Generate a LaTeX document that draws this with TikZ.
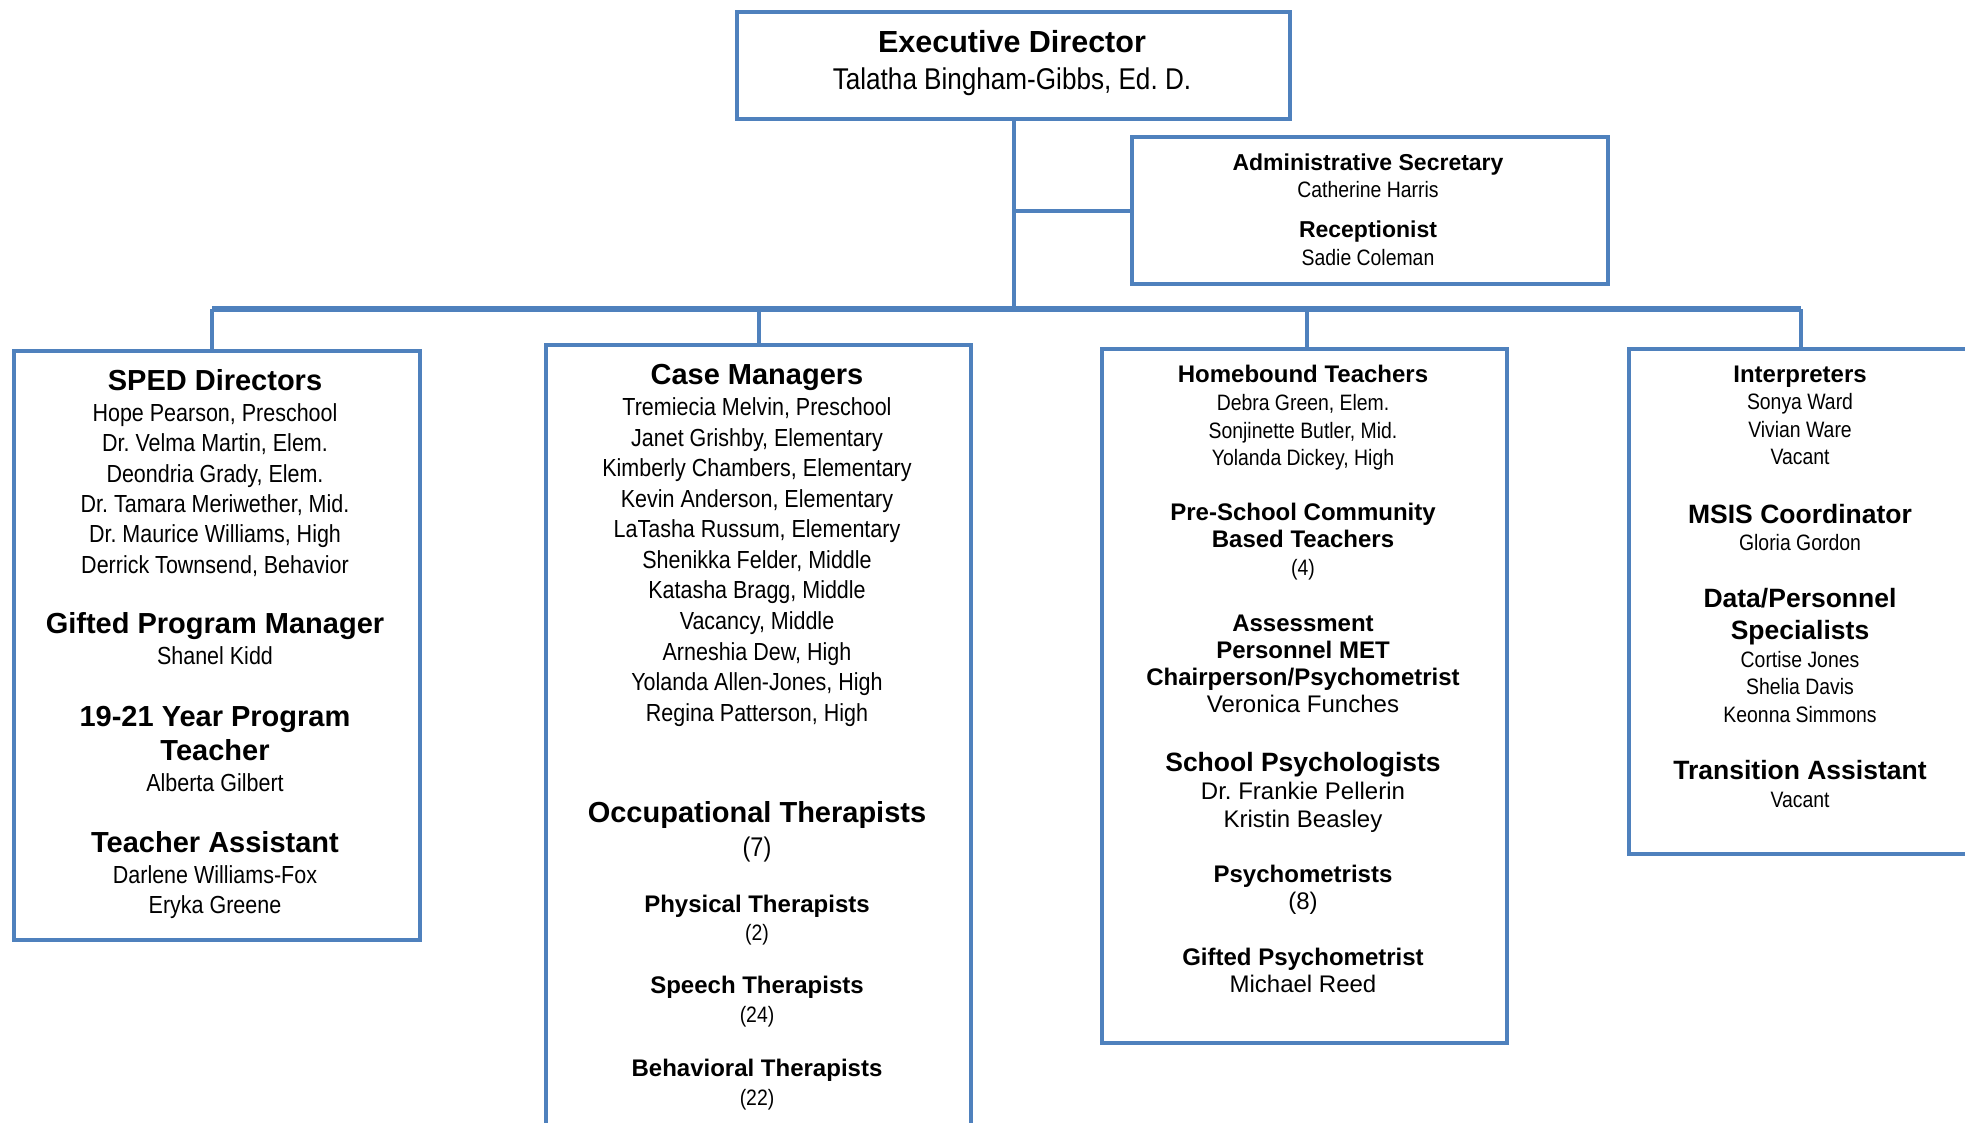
\documentclass[tikz,border=0pt]{standalone}
\usepackage{fontspec}
\setmainfont{Liberation Sans}
\newfontfamily\narrowfont{Liberation Sans}[FakeStretch=0.87]
\usetikzlibrary{calc}
\definecolor{orgblue}{RGB}{79,129,189}
\frenchspacing
\newcommand\hdX{\fontsize{30.5}{31}\selectfont\bfseries}
\newcommand\hdA{\fontsize{29}{29}\selectfont\bfseries}
\newcommand\hdC{\fontsize{26.5}{27}\selectfont\bfseries}
\newcommand\hdB{\fontsize{24}{24}\selectfont\bfseries}
\newcommand\hdS{\fontsize{23}{23}\selectfont\bfseries}
\newcommand\nmX{\narrowfont\fontsize{30}{30}\selectfont}
\newcommand\nmD{\narrowfont\fontsize{27}{27}\selectfont}
\newcommand\nmA{\narrowfont\fontsize{24.7}{25}\selectfont}
\newcommand\nmB{\narrowfont\fontsize{22.3}{23}\selectfont}
\newcommand\nmC{\fontsize{24}{24}\selectfont}
\tikzset{
	unitbox/.style={draw=orgblue, line width=4.2pt, inner sep=0pt, anchor=north west},
	link/.style={draw=orgblue, line width=4pt},
	busline/.style={draw=orgblue, line width=5.5pt},
	txt/.style={inner sep=0pt, anchor=base}
}

\begin{document}
\begin{tikzpicture}[x=1pt, y=-1pt]
		%%%%% START %%%%%
		\useasboundingbox (0,0) rectangle (1965,1123);
		
		\node[unitbox, minimum width=553pt, minimum height=107pt] (exec) at (735,10) {};
		\node[unitbox, minimum width=476pt, minimum height=147pt] (admin) at (1130,135) {};
		\node[unitbox, minimum width=406pt, minimum height=589pt] (sped) at (12,349) {};
		\node[unitbox, minimum width=425pt, minimum height=792pt] (case) at (544,343) {};
		\node[unitbox, minimum width=405pt, minimum height=694pt] (home) at (1100,347) {};
		\node[unitbox, minimum width=343pt, minimum height=505pt] (interp) at (1627,347) {};
		
		\coordinate (busY) at (0,309);
		\coordinate (spedTop) at ($(sped.north)+(-5,0)$);
		\coordinate (homeTop) at ($(home.north)+(2,0)$);
		\draw[link] (exec.south) -- (exec.south |- busY);
		\draw[link] (admin.west) -- (admin.west -| exec.south);
		\draw[busline] (spedTop |- busY) -- (interp.north |- busY);
		\draw[link] (spedTop) -- (spedTop |- busY);
		\draw[link] (case.north) -- (case.north |- busY);
		\draw[link] (homeTop) -- (homeTop |- busY);
		\draw[link] (interp.north) -- (interp.north |- busY);
		
		% top
		\foreach \yy/\fnt/\lbl [count=\i] in {53/\hdX/Executive Director, 90/\nmX/{Talatha Bingham-Gibbs, Ed. D.}}
			\node[txt] (exec\i) at (1012,\yy) {\fnt \lbl};
		\foreach \yy/\fnt/\lbl [count=\i] in {171/\hdS/Administrative Secretary, 198/\nmB/Catherine Harris, 238/\hdS/Receptionist, 266/\nmB/Sadie Coleman}
			\node[txt] (admin\i) at (1368,\yy) {\fnt \lbl};
		
		% SPED
		\foreach \yy/\fnt/\lbl [count=\i] in {390/\hdA/SPED Directors, 421/\nmA/{Hope Pearson, Preschool}, 451/\nmA/{Dr. Velma Martin, Elem.}, 482/\nmA/{Deondria Grady, Elem.}, 512/\nmA/{Dr. Tamara Meriwether, Mid.}, 542/\nmA/{Dr. Maurice Williams, High}, 573/\nmA/{Derrick Townsend, Behavior}, 633/\hdA/Gifted Program Manager, 664/\nmA/Shanel Kidd, 726/\hdA/19-21 Year Program, 760/\hdA/Teacher, 791/\nmA/Alberta Gilbert, 852/\hdA/Teacher Assistant, 883/\nmA/Darlene Williams-Fox, 913/\nmA/Eryka Greene}
			\node[txt] (sped\i) at (215,\yy) {\fnt \lbl};
		
		% case managers
		\foreach \yy/\fnt/\lbl [count=\i] in {384/\hdA/Case Managers, 415/\nmA/{Tremiecia Melvin, Preschool}, 446/\nmA/{Janet Grishby, Elementary}, 476/\nmA/{Kimberly Chambers, Elementary}, 507/\nmA/{Kevin Anderson, Elementary}, 537/\nmA/{LaTasha Russum, Elementary}, 568/\nmA/{Shenikka Felder, Middle}, 598/\nmA/{Katasha Bragg, Middle}, 629/\nmA/{Vacancy, Middle}, 660/\nmA/{Arneshia Dew, High}, 690/\nmA/{Yolanda Allen-Jones, High}, 721/\nmA/{Regina Patterson, High}, 822/\hdA/Occupational Therapists, 856/\nmD/(7), 912/\hdB/Physical Therapists, 940/\nmB/(2), 993/\hdB/Speech Therapists, 1022/\nmB/(24), 1076/\hdB/Behavioral Therapists, 1105/\nmB/(22)}
			\node[txt] (case\i) at (757,\yy) {\fnt \lbl};
		
		% homebound
		\foreach \yy/\fnt/\lbl [count=\i] in {382/\hdB/Homebound Teachers, 410/\nmB/{Debra Green, Elem.}, 438/\nmB/{Sonjinette Butler, Mid.}, 465/\nmB/{Yolanda Dickey, High}, 520/\hdB/Pre-School Community, 547/\hdB/Based Teachers, 575/\nmB/(4), 631/\hdB/Assessment, 658/\hdB/Personnel MET, 685/\hdB/{Chairperson/Psychometrist}, 712/\nmC/Veronica Funches, 771/\hdC/School Psychologists, 799/\nmC/Dr. Frankie Pellerin, 827/\nmC/Kristin Beasley, 882/\hdB/Psychometrists, 909/\nmC/(8), 965/\hdB/Gifted Psychometrist, 992/\nmC/Michael Reed}
			\node[txt] (home\i) at (1303,\yy) {\fnt \lbl};
		
		% interpreters
		\foreach \yy/\fnt/\lbl [count=\i] in {382/\hdB/Interpreters, 409/\nmB/Sonya Ward, 437/\nmB/Vivian Ware, 464/\nmB/Vacant, 523/\hdC/MSIS Coordinator, 550/\nmB/Gloria Gordon, 607/\hdC/{Data/Personnel}, 639/\hdC/Specialists, 667/\nmB/Cortise Jones, 694/\nmB/Shelia Davis, 722/\nmB/Keonna Simmons, 779/\hdC/Transition Assistant, 807/\nmB/Vacant}
			\node[txt] (interp\i) at (1800,\yy) {\fnt \lbl};
		
		%%%%% END %%%%%
	\end{tikzpicture}
\end{document}
